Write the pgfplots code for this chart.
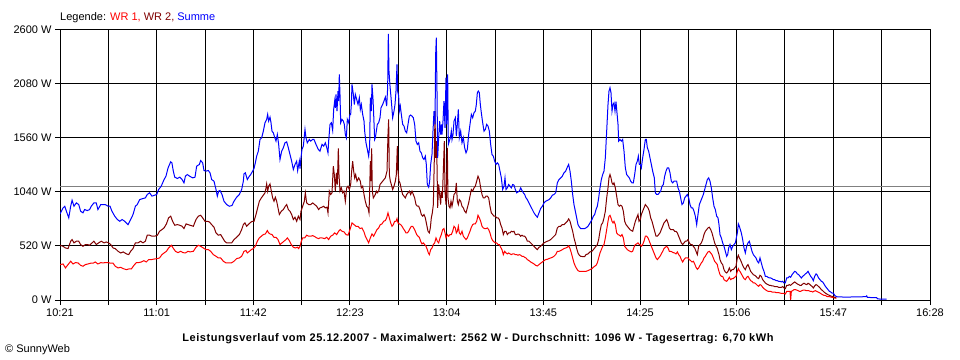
\documentclass[border=0pt]{standalone}
\usepackage{fontspec}
\setmainfont{Liberation Sans}
\usepackage{pgfplots}
\pgfplotsset{compat=1.18}
\definecolor{wra}{RGB}{255,0,0}
\definecolor{wrb}{RGB}{128,0,0}
\definecolor{summe}{RGB}{0,0,255}
\definecolor{avg}{RGB}{128,128,128}
\newcommand{\fs}{\fontsize{11bp}{13bp}\selectfont}
\begin{document}
\begin{tikzpicture}
\path[use as bounding box] (0,0) rectangle (960bp,360bp);
\begin{axis}[
  at={(60bp,60bp)}, anchor=south west,
  scale only axis, width=870bp, height=270bp,
  xmin=0, xmax=367, ymin=0, ymax=2600,
  axis line style={black, line width=1bp},
  xtick={0,20.39,40.78,61.17,81.56,101.94,122.33,142.72,163.11,183.5,203.89,224.28,244.67,265.06,285.44,305.83,326.22,346.61,367},
  xticklabels={10:21,,11:01,,11:42,,12:23,,13:04,,13:45,,14:25,,15:06,,15:47,,16:28},
  ytick={0,520,1040,1560,2080,2600},
  yticklabels={0 W,520 W,1040 W,1560 W,2080 W,2600 W},
  xtick pos=left, ytick pos=left,
  tick align=outside,
  major tick length=5bp,
  tick style={black, line width=1bp},
  grid=major, grid style={black, line width=1bp},
  tick label style={font=\fs},
  every axis plot/.append style={line width=1bp, no marks},
]
\addplot[avg] coordinates {(0,1096) (367,1096)};
% WR 1
\addplot[wra] coordinates {
(0,341) (1.3,347) (2.3,309) (3.4,341) (4.5,373) (5.5,347) (6.5,360) (7.6,357) (8.7,334) (9.7,325) (10.7,341) (11.8,347) (12.9,354) (13.9,354) (14.9,366) (16.0,347) (17.2,360) (18.1,357) (19.1,360) (20.3,360) (21.4,354) (22.4,354) (23.3,325) (24.5,309) (25.6,315) (26.7,302) (28.0,292) (29.0,299) (30.1,299) (31.2,334) (32.2,360) (33.2,360) (34.3,366) (35.4,379) (36.4,366) (37.4,389) (38.5,389) (39.9,395) (41.1,399) (42.0,405) (43.0,437) (43.9,453) (44.9,469) (45.8,501) (47.0,527) (47.7,501) (48.7,469) (49.8,456) (50.9,469) (51.9,456) (52.9,453) (54.0,469)
(54.84,463) (56.25,469) (57.37,508) (58.35,527) (59.34,517) (60.46,501) (61.59,485) (62.57,485) (63.56,469) (64.68,437) (65.81,421) (66.79,405) (67.78,405) (68.90,373) (70.02,357) (71.15,357) (72.27,357) (73.40,373) (74.52,399) (75.65,405) (76.63,421) (77.62,469) (78.46,476) (79.02,453) (79.87,469) (80.71,485) (81.55,495) (82.40,517) (83.24,566) (84.09,598) (84.93,614) (85.77,630) (86.62,636) (87.46,669) (88.02,646) (88.59,636) (89.43,630) (90.27,604) (91.12,604) (91.96,582) (92.80,534) (93.65,550) (94.49,566) (95.33,582) (95.90,598) (96.74,572) (97.58,534) (98.43,508) (99.27,501) (100.11,508) (100.68,495) (101.24,517) (101.80,566) (102.37,598) (103.21,598) (104.05,624) (104.90,614) (105.74,614) (106.58,620) (107.43,611) (108.27,598) (109.11,591) (109.67,598)
(110.52,598) (111.65,591) (112.49,604) (113.33,582) (114.18,614) (115.02,624) (115.87,646) (116.71,630) (117.55,662) (118.26,678) (118.96,662) (119.80,656) (120.65,630) (121.49,624) (122.33,678) (123.18,742) (124.02,726) (124.86,710) (125.71,710) (126.55,688) (127.39,694) (128.24,656) (128.80,614) (129.50,582) (130.21,550) (130.91,598) (131.61,636) (132.32,614) (133.02,646) (133.72,678) (134.42,694) (135.13,726) (135.83,733) (136.53,758) (137.24,765) (137.80,791) (138.36,839) (138.92,791) (139.49,742) (140.05,710) (140.61,726) (141.17,758) (141.74,758) (142.16,784) (142.58,742) (143.14,733) (143.71,726) (144.27,710) (144.83,688) (145.39,669) (145.96,646) (146.52,646) (147.08,662) (147.64,688) (148.21,710) (148.77,710) (149.33,688) (149.89,662) (150.46,630) (151.02,614) (151.58,604) (152.14,566) (152.70,540) (153.27,550) (153.83,534) (154.39,517) (154.95,485) (155.38,453) (155.80,437) (156.36,485) (156.92,501) (157.49,534) (158.05,550) (158.61,598) (159.17,566) (159.73,550) (160.30,598) (160.86,630) (161.42,678) (161.98,688) (162.41,646) (162.83,598) (163.39,630) (163.95,614) (164.52,630) (165.08,630) (165.64,662)
(166.21,710) (166.77,694) (167.19,646) (167.61,662) (168.03,710) (168.45,646) (169.02,630) (169.58,662) (170.14,614) (170.70,598) (171.27,582) (171.83,598) (172.39,630) (172.95,662) (173.52,701) (174.08,726) (174.64,733) (175.20,733) (175.77,758) (176.33,816) (176.89,791) (177.45,758) (178.02,710) (178.58,694) (179.14,688) (179.70,688) (180.27,694) (180.83,678) (181.39,646) (181.95,598) (182.52,572) (183.08,559) (183.64,550) (184.20,550) (184.77,534) (185.33,534) (185.89,508) (186.45,485) (187.01,437) (187.58,469) (188.14,453) (188.70,444) (189.26,453) (189.83,444) (190.39,437) (190.95,444) (191.51,444) (192.08,437) (192.64,437) (193.20,431) (193.76,437) (194.33,431) (194.89,421) (195.45,421) (196.01,411) (196.58,405) (197.14,389) (197.84,379) (198.54,366) (199.25,357) (199.95,347) (200.65,334) (201.36,328) (202.06,341) (202.76,354) (203.47,366) (204.17,379) (204.87,389) (205.58,392) (206.28,399) (206.98,405) (207.68,411) (208.39,421) (209.09,437) (209.79,469) (210.50,469) (211.20,476) (211.90,485) (212.61,495) (213.31,501) (214.01,508) (214.57,521) (215.14,495) (215.70,453) (216.26,405) (216.82,357) (217.39,325) (217.95,302) (218.51,283) (219.07,276) (219.64,276) (220.48,276) (221.32,276)
(221.89,276) (222.73,283) (223.58,292) (224.42,302) (224.98,315) (225.54,325) (226.11,334) (226.67,357) (227.23,405) (227.79,453) (228.36,485) (228.92,517) (229.48,534) (230.04,598) (230.61,678) (231.17,758) (231.59,807) (232.01,816) (232.43,791) (232.86,758) (233.28,742) (233.70,758) (234.26,726) (234.82,646) (235.39,630) (235.95,624) (236.51,614) (237.07,630) (237.64,598) (238.20,517) (238.76,501) (239.32,485) (239.89,476) (240.45,469) (241.01,463) (241.57,469) (242.14,508) (242.70,534) (243.26,540) (243.82,550) (244.39,534) (244.81,534) (245.23,517) (245.79,534) (246.35,566) (246.92,614) (247.48,614) (248.04,598) (248.60,566) (249.17,534) (249.73,501) (250.29,469) (250.85,437) (251.42,405) (251.98,389) (252.54,405) (253.10,421) (253.67,444) (254.23,469) (254.79,495) (255.35,508) (255.92,517) (256.48,501) (257.04,469) (257.60,469) (258.17,463) (258.73,456) (259.29,453) (259.85,444) (260.42,463) (260.98,437) (261.54,421) (262.10,389) (262.66,366) (263.23,389) (263.79,405) (264.35,405) (264.91,405) (265.48,389) (266.04,379) (266.60,366) (267.16,373) (267.73,347) (268.29,315) (268.85,296) (269.41,309) (269.98,334) (270.54,357) (271.10,373) (271.66,405) (272.23,421) (272.79,444) (273.35,463) (273.91,469) (274.48,453) (275.04,437) (275.60,405) (276.16,373) (276.73,357) (277.29,341)
(277.57,309) (277.99,276) (278.41,244) (278.98,228) (279.54,228) (280.10,196) (280.66,186) (281.23,180) (281.79,196) (282.35,219) (282.91,196) (283.48,206) (284.04,206) (284.60,219) (285.16,228) (285.73,276) (286.15,302) (286.57,283) (286.99,270) (287.41,251) (287.98,228) (288.54,206) (289.10,196) (289.66,219) (290.23,228) (290.79,206) (291.35,186) (291.91,180) (292.48,164) (293.04,164) (293.60,154) (294.16,141) (294.73,132) (295.29,148) (295.85,141) (296.41,122) (296.97,109) (297.54,100) (298.10,90) (298.66,84) (299.22,84) (299.79,84) (300.35,77) (300.91,77) (301.47,77) (302.04,71) (302.60,71) (303.16,71) (303.72,67) (304.29,64) (304.85,64) (305.41,64) (305.97,58) (306.54,84) (307.10,84) (307.66,84) (307.94,84) (308.22,0) (308.51,84) (309.07,90) (309.63,100) (310.19,100) (310.75,96) (311.32,90) (311.88,84) (312.44,84) (313.00,90) (313.57,96) (314.13,96) (314.69,90) (315.25,90) (315.82,90) (316.38,84) (316.94,84) (317.50,77) (318.07,84) (318.63,90) (319.19,84) (319.75,77) (320.60,67) (321.16,58) (321.72,51) (322.28,45) (322.85,45) (323.41,35) (323.97,32) (324.53,32) (325.10,29) (325.66,26) (326.22,26) (326.78,19) (327.49,19)
};
% WR 2
\addplot[wrb] coordinates {
(0,527) (1.3,517) (2.3,501) (3.4,495) (4.5,566) (5.1,582) (5.9,550) (6.9,566) (7.9,566) (8.7,534) (9.7,517) (10.7,534) (11.5,534) (12.5,527) (13.2,543) (14.3,566) (15.3,534) (16.3,550) (17.4,566) (18.6,550) (19.5,559) (20.5,550) (21.4,534) (22.4,501) (23.3,495) (24.5,469) (25.6,453) (26.7,463) (28.0,444) (29.0,437) (29.8,469) (30.8,495) (31.8,550) (32.9,550) (34.0,566) (35.0,550) (36.0,566) (36.8,624) (37.8,624) (38.8,614) (39.9,614) (41.1,624) (42.0,662) (43.0,678) (43.9,694) (44.9,733) (45.8,791) (46.7,807) (47.5,758) (48.4,720) (49.5,726) (50.5,720) (51.5,710) (52.3,688) (53.2,733) (54.0,726)
(54.84,720) (56.25,710) (57.37,775) (58.35,807) (59.34,816) (60.18,791) (61.17,758) (62.15,758) (62.99,752) (63.98,726) (64.96,701) (65.81,646) (66.79,624) (67.78,630) (68.62,598) (69.46,566) (70.31,550) (71.43,550) (72.42,550) (73.40,582) (74.52,604) (75.65,630) (76.63,678) (77.34,726) (78.04,742) (78.74,710) (79.44,726) (80.15,742) (80.99,758) (81.84,758) (82.68,823) (83.38,887) (84.09,951) (84.93,983) (85.77,1009) (86.48,1032) (86.90,1080) (87.18,1118) (87.60,1048) (88.02,1096) (88.59,1118) (89.15,1048) (89.71,983) (90.27,951) (90.84,990) (91.40,951) (91.96,887) (92.52,823) (93.37,855) (94.21,871) (95.05,903) (95.62,919) (96.32,871) (97.02,855) (97.72,823) (98.43,775) (99.13,797) (99.83,758) (100.54,807) (101.24,775) (101.66,855) (102.37,903) (103.07,951) (103.49,1032) (104.05,935) (104.90,919) (105.74,919) (106.58,935) (107.43,919) (108.27,903) (109.11,871) (109.67,887)
(110.52,894) (111.23,903) (111.93,887) (112.63,894) (113.05,839) (113.62,1048) (114.18,1016) (114.74,1032) (115.30,1289) (115.72,1208) (116.15,1048) (116.57,1225) (116.99,1112) (117.41,1460) (117.69,1208) (118.11,1048) (118.68,1080) (119.24,1032) (119.80,1048) (120.36,951) (120.93,1080) (121.49,1096) (122.05,1064) (122.61,1112) (123.04,1241) (123.46,1337) (123.88,1241) (124.30,1176) (124.72,1208) (125.29,1144) (125.99,1176) (126.69,1144) (127.11,1080) (127.68,1096) (128.24,1016) (128.80,951) (129.36,903) (129.93,887) (130.35,839) (130.63,1048) (130.91,1337) (131.19,1144) (131.47,1460) (131.75,1048) (132.18,983) (132.60,1000) (133.02,1016) (133.44,1048) (133.86,1032) (134.42,1048) (134.99,1112) (135.55,1128) (136.11,1144) (136.67,1160) (137.24,1176) (137.94,1241) (138.36,1594) (138.64,1739) (138.92,1208) (139.35,1144) (139.77,1112) (140.33,1064) (140.89,1096) (141.46,1144) (141.88,1208) (142.30,1482) (142.58,1241) (143.00,1144) (143.42,1128) (143.99,1064) (144.55,1016) (145.11,1000) (145.67,983) (146.24,1016) (146.80,1032) (147.36,1048) (147.92,1016) (148.49,1048) (149.05,1016) (149.61,983) (150.17,919) (150.74,903) (151.30,903) (151.86,871) (152.42,823) (152.99,807) (153.55,823) (154.11,791) (154.67,726) (155.24,662) (155.80,646) (156.22,694) (156.64,791) (157.06,839) (157.49,919) (157.91,1369) (158.19,1819) (158.47,1369) (158.75,1530) (159.03,1305) (159.31,887) (159.73,1112) (160.16,1016) (160.58,919) (160.86,1048) (161.28,983) (161.70,1241) (162.12,1530) (162.41,1048) (162.83,919) (163.11,1176) (163.39,1466) (163.67,983) (164.09,903) (164.52,887) (164.94,951) (165.36,903) (165.78,951)
(166.21,1016) (166.77,1032) (167.19,1128) (167.61,951) (168.03,919) (168.45,967) (169.02,951) (169.58,903) (170.14,887) (170.70,855) (171.27,839) (171.83,887) (172.39,935) (172.95,1000) (173.52,1064) (174.08,1048) (174.64,1080) (175.20,1096) (175.77,1144) (176.33,1192) (176.89,1160) (177.45,1080) (178.02,1016) (178.58,983) (179.14,983) (179.70,1000) (180.27,1000) (180.83,983) (181.39,903) (181.95,839) (182.52,823) (183.08,807) (183.64,807) (184.20,791) (184.77,791) (185.33,775) (185.89,726) (186.45,694) (187.01,630) (187.58,662) (188.14,662) (188.70,630) (189.26,646) (189.83,646) (190.39,662) (190.95,656) (191.51,662) (192.08,630) (192.64,630) (193.20,636) (193.76,630) (194.33,614) (194.89,624) (195.45,614) (196.01,614) (196.58,598) (197.14,566) (197.84,566) (198.54,550) (199.25,534) (199.95,517) (200.65,501) (201.36,485) (202.06,508) (202.76,517) (203.47,534) (204.17,550) (204.87,559) (205.58,566) (206.28,572) (206.98,582) (207.68,598) (208.39,614) (209.09,630) (209.79,694) (210.50,710) (211.20,710) (211.90,726) (212.61,726) (213.31,742) (214.01,758) (214.57,781) (215.14,758) (215.70,710) (216.26,662) (216.82,598) (217.39,550) (217.95,495) (218.51,453) (219.07,431) (219.64,421) (220.48,418) (221.32,418)
(221.89,437) (222.73,444) (223.58,463) (224.42,469) (224.98,485) (225.54,501) (226.11,517) (226.67,534) (227.23,582) (227.79,662) (228.36,726) (228.92,742) (229.48,791) (230.04,855) (230.61,983) (231.17,1080) (231.59,1176) (232.01,1208) (232.43,1176) (232.86,1128) (233.28,1112) (233.70,1128) (234.26,1080) (234.82,1000) (235.39,919) (235.95,903) (236.51,913) (237.07,903) (237.64,855) (238.20,758) (238.76,726) (239.32,710) (239.89,694) (240.45,678) (241.01,669) (241.57,662) (242.14,710) (242.70,758) (243.26,791) (243.82,823) (244.24,758) (244.81,775) (245.23,823) (245.79,855) (246.35,887) (246.92,919) (247.48,903) (248.04,887) (248.60,855) (249.17,791) (249.73,758) (250.29,710) (250.85,662) (251.42,614) (251.98,614) (252.54,630) (253.10,646) (253.67,678) (254.23,710) (254.79,742) (255.35,758) (255.92,775) (256.48,742) (257.04,694) (257.60,678) (258.17,678) (258.73,678) (259.29,662) (259.85,662) (260.42,646) (260.98,614) (261.54,582) (262.10,550) (262.66,534) (263.23,550) (263.79,566) (264.35,566) (264.91,582) (265.48,550) (266.04,534) (266.60,534) (267.16,517) (267.73,501) (268.29,469) (268.85,437) (269.41,517) (269.98,534) (270.54,550) (271.10,582) (271.66,630) (272.23,662) (272.79,678) (273.35,694) (273.91,701) (274.48,678) (275.04,646) (275.60,598) (276.16,550) (276.73,517) (277.29,495)
(277.57,469) (277.99,437) (278.41,389) (278.98,357) (279.54,341) (280.10,292) (280.66,270) (281.23,260) (281.79,276) (282.35,309) (282.91,276) (283.48,292) (284.04,292) (284.60,309) (285.16,325) (285.73,405) (286.15,431) (286.57,405) (286.99,389) (287.41,366) (287.98,334) (288.54,309) (289.10,292) (289.66,325) (290.23,341) (290.79,309) (291.35,276) (291.91,260) (292.48,244) (293.04,238) (293.60,228) (294.16,212) (294.73,206) (295.29,238) (295.85,228) (296.41,196) (296.97,180) (297.54,164) (298.10,154) (298.66,148) (299.22,141) (299.79,141) (300.35,135) (300.91,135) (301.47,129) (302.04,129) (302.60,129) (303.16,122) (303.72,122) (304.29,122) (304.85,129) (305.41,116) (305.97,109) (306.54,141) (307.10,141) (307.66,148) (308.22,141) (308.79,154) (309.35,164) (309.91,174) (310.47,164) (311.04,154) (311.60,148) (312.16,141) (312.72,141) (313.29,154) (313.85,161) (314.41,154) (314.97,148) (315.54,161) (316.10,154) (316.66,141) (317.22,132) (317.79,116) (318.35,135) (318.91,148) (319.47,141) (320.03,129) (320.60,116) (321.16,100) (321.72,90) (322.28,77) (322.85,67) (323.41,58) (323.97,51) (324.53,45) (325.10,39) (325.66,35) (326.22,32) (326.78,26) (327.49,19)
};
% Summe
\addplot[summe] coordinates {
(0,829) (1.3,887) (2.0,903) (2.7,855) (3.7,791) (4.5,903) (5.1,961) (5.9,903) (6.9,935) (7.9,919) (8.7,855) (9.7,839) (10.4,871) (11.5,861) (12.5,871) (13.2,903) (14.3,935) (15.3,935) (16.0,871) (17.2,919) (18.1,919) (19.1,919) (20.3,903) (21.1,903) (21.9,855) (23.1,807) (24.2,775) (25.2,758) (26.2,775) (27.3,758) (28.7,726) (29.8,775) (30.8,823) (31.8,903) (32.6,919) (33.6,967) (35.0,977) (36.0,983) (36.8,1016) (37.8,1032) (38.8,1000) (39.9,1009) (40.8,1016) (41.6,1064) (42.7,1096) (43.9,1160) (44.7,1192) (45.6,1273) (46.7,1331) (47.2,1321) (47.8,1241) (48.4,1183) (49.5,1170) (50.5,1183) (51.5,1160) (52.3,1128) (52.9,1192) (53.7,1208) (54.7,1192)
(55.96,1176) (56.95,1183) (57.65,1289) (58.78,1305) (59.34,1343) (60.18,1321) (60.74,1247) (61.59,1241) (62.57,1247) (63.28,1225) (63.98,1160) (64.96,1144) (65.81,1064) (66.37,1000) (66.93,1048) (67.49,1054) (68.34,1016) (69.18,951) (70.31,919) (71.43,903) (72.56,910) (73.40,951) (74.52,990) (75.65,1016) (76.63,1064) (77.34,1144) (77.62,1215) (78.18,1225) (79.02,1160) (79.87,1192) (80.43,1208) (81.27,1241) (81.84,1266) (82.40,1321) (82.96,1385) (83.66,1433) (84.37,1546) (85.07,1562) (85.77,1626) (86.48,1707) (87.18,1739) (87.60,1787) (88.02,1723) (88.59,1761) (89.01,1707) (89.43,1626) (89.99,1610) (90.55,1568) (91.12,1530) (91.68,1594) (92.24,1498) (92.80,1353) (93.51,1433) (94.21,1466) (94.91,1514) (95.62,1523) (96.32,1466) (97.02,1401) (97.72,1337) (98.43,1257) (99.13,1305) (99.83,1337) (100.25,1247) (100.96,1337) (101.24,1266) (101.66,1369) (102.08,1450) (102.65,1482) (103.35,1642) (103.77,1562) (104.33,1514) (105.18,1546) (105.74,1530) (106.58,1546) (107.14,1546) (107.99,1498) (108.97,1450) (109.67,1433)
(110.52,1498) (111.23,1482) (111.93,1514) (112.63,1459) (113.05,1417) (113.33,1530) (113.90,1691) (114.46,1707) (115.02,1633) (115.44,1835) (115.87,1916) (116.15,1851) (116.43,1980) (116.85,1819) (117.27,2012) (117.55,1916) (117.83,2173) (118.11,1980) (118.40,1707) (118.96,1739) (119.52,1723) (119.94,1691) (120.36,1594) (120.79,1562) (121.21,1739) (121.77,1707) (122.33,1787) (122.61,1787) (122.90,1883) (123.18,2076) (123.74,1980) (124.16,1883) (124.58,1980) (125.15,1932) (125.71,1883) (126.27,1948) (126.69,1835) (127.11,1883) (127.68,1787) (128.24,1723) (128.52,1626) (129.08,1514) (129.65,1450) (130.21,1385) (130.63,1482) (130.91,1948) (131.33,1819) (131.61,2076) (132.04,1932) (132.32,1787) (132.74,1546) (133.02,1562) (133.44,1626) (133.86,1691) (134.42,1707) (134.99,1755) (135.41,1851) (136.11,1883) (136.67,1916) (137.24,1954) (137.80,1867) (138.22,2044) (138.50,2562) (138.78,2205) (139.21,2060) (139.77,1916) (140.33,1755) (140.89,1819) (141.31,1883) (141.74,2012) (142.16,2269) (142.44,2012) (142.86,1964) (143.14,1819) (143.56,1867) (143.99,1787) (144.55,1691) (145.11,1675) (145.67,1626) (146.24,1610) (146.80,1691) (147.36,1771) (147.92,1781) (148.49,1771) (149.05,1755) (149.61,1691) (150.17,1530) (150.74,1498) (151.30,1514) (151.86,1433) (152.42,1417) (152.99,1369) (153.55,1353) (154.11,1385) (154.53,1305) (154.95,1112) (155.52,1086) (155.94,1144) (156.36,1305) (156.92,1401) (157.34,1626) (157.77,1819) (158.19,1691) (158.47,2366) (158.75,2526) (159.03,2012) (159.31,1369) (159.73,1562) (160.16,1723) (160.58,1594) (160.86,1691) (161.14,1594) (161.56,1723) (161.98,1916) (162.41,1658) (162.83,2141) (163.11,1691) (163.53,2173) (163.81,1498) (164.23,1530) (164.66,1562) (165.08,1626) (165.36,1546) (165.78,1594)
(166.21,1723) (166.77,1755) (167.19,1578) (167.61,1691) (168.03,1835) (168.45,1562) (169.02,1626) (169.58,1514) (170.14,1562) (170.70,1466) (171.27,1417) (171.83,1450) (172.39,1594) (172.95,1691) (173.52,1787) (174.08,1755) (174.64,1803) (175.20,1819) (175.63,1883) (176.05,1996) (176.47,2012) (176.89,1996) (177.31,1883) (177.73,1803) (178.30,1707) (178.86,1626) (179.42,1642) (179.98,1691) (180.55,1675) (181.11,1626) (181.67,1498) (182.23,1401) (182.80,1385) (183.36,1337) (183.92,1305) (184.48,1321) (185.05,1305) (185.61,1241) (186.17,1176) (186.73,1064) (187.30,1096) (187.72,1176) (188.14,1064) (188.70,1080) (189.26,1112) (189.83,1096) (190.39,1080) (190.95,1112) (191.51,1106) (192.08,1064) (192.64,1032) (193.20,1041) (193.76,1048) (194.33,1080) (194.89,1054) (195.45,1032) (196.01,1016) (196.58,983) (197.14,967) (197.84,935) (198.54,903) (199.25,871) (199.95,839) (200.65,816) (201.36,797) (202.06,839) (202.76,881) (203.47,903) (204.17,935) (204.87,951) (205.58,958) (206.28,967) (206.98,983) (207.68,1009) (208.39,1016) (209.09,1032) (209.79,1128) (210.50,1160) (211.20,1176) (211.90,1192) (212.61,1225) (213.31,1241) (214.01,1279) (214.57,1305) (215.14,1241) (215.70,1144) (216.26,1016) (216.82,919) (217.39,855) (217.95,791) (218.51,726) (219.07,704) (219.64,688) (220.48,688) (221.32,688)
(221.89,694) (222.73,710) (223.58,742) (224.42,775) (224.98,807) (225.54,823) (226.11,871) (226.67,903) (227.23,983) (227.79,1080) (228.36,1160) (228.92,1208) (229.48,1241) (230.04,1369) (230.61,1626) (231.17,1883) (231.59,2012) (232.01,2044) (232.43,1996) (232.86,1819) (233.28,1883) (233.70,1899) (234.12,1819) (234.54,1909) (234.96,1803) (235.39,1691) (235.67,1530) (236.23,1546) (236.79,1530) (237.35,1546) (237.92,1433) (238.48,1273) (239.04,1208) (239.60,1192) (240.17,1176) (240.73,1144) (241.29,1128) (241.85,1128) (242.42,1208) (242.98,1305) (243.54,1337) (243.96,1385) (244.39,1305) (244.81,1305) (245.23,1273) (245.79,1369) (246.35,1450) (246.92,1546) (247.34,1546) (247.76,1466) (248.32,1433) (248.88,1369) (249.45,1305) (250.01,1241) (250.71,1176) (251.13,1032) (251.70,1016) (252.26,1016) (252.82,1032) (253.38,1048) (253.95,1096) (254.51,1112) (255.07,1192) (255.63,1241) (256.20,1273) (256.76,1273) (257.32,1225) (257.88,1144) (258.45,1128) (259.01,1144) (259.57,1144) (260.13,1144) (260.70,1080) (261.26,1048) (261.82,983) (262.38,919) (262.95,935) (263.51,983) (264.07,1000) (264.63,1016) (265.20,983) (265.76,919) (266.32,887) (266.88,887) (267.45,855) (268.01,807) (268.57,726) (269.13,823) (269.70,919) (270.26,951) (270.82,983) (271.38,1016) (271.95,1064) (272.51,1112) (273.07,1160) (273.63,1176) (274.20,1144) (274.76,1080) (275.32,983) (275.88,903) (276.44,871) (277.01,807)
(277.57,791) (277.99,726) (278.41,630) (278.98,598) (279.54,550) (280.10,517) (280.66,469) (281.23,421) (281.65,437) (282.07,501) (282.63,534) (283.20,485) (283.76,517) (284.32,534) (284.88,550) (285.30,598) (285.73,646) (286.15,733) (286.57,710) (286.99,678) (287.41,646) (287.98,582) (288.54,501) (289.10,453) (289.66,517) (290.23,550) (290.79,566) (291.35,517) (291.91,469) (292.48,437) (293.04,421) (293.60,405) (294.16,373) (294.73,357) (295.29,405) (295.85,357) (296.41,309) (296.97,276) (297.54,228) (298.10,228) (298.66,219) (299.22,212) (299.79,212) (300.35,206) (300.91,196) (301.47,196) (302.04,186) (302.60,186) (303.16,180) (303.72,180) (304.29,174) (304.85,180) (305.41,164) (305.97,164) (306.54,212) (307.10,212) (307.66,228) (308.22,219) (308.79,244) (309.35,260) (309.91,276) (310.47,270) (311.04,251) (311.60,244) (312.16,228) (312.72,212) (313.29,228) (313.85,238) (314.41,251) (314.97,260) (315.54,276) (316.10,251) (316.66,228) (317.22,212) (317.79,186) (318.35,228) (318.91,251) (319.47,238) (320.03,212) (320.60,196) (321.16,180) (321.72,174) (322.28,154) (322.85,132) (323.41,116) (323.97,100) (324.53,84) (325.10,77) (325.66,67) (326.22,67) (326.78,45) (327.35,35) (327.91,30) (331.7,28) (336.0,30) (340.0,32) (340.3,40) (340.6,25) (344.5,22) (345.0,10) (348.7,8)
};
\end{axis}
\node[anchor=base west, inner sep=0, font=\fs] at (60bp,339.5bp) {Legende: \textcolor{wra}{WR 1,} \textcolor{wrb}{WR 2,} \textcolor{summe}{Summe}};
\node[anchor=base, inner sep=0, font=\fs\bfseries\addfontfeature{LetterSpace=5}] at (478bp,19bp) {Leistungsverlauf vom 25.12.2007 - Maximalwert: 2562 W - Durchschnitt: 1096 W - Tagesertrag: 6,70 kWh};
\node[anchor=base west, inner sep=0, font=\fs] at (5bp,7.3bp) {\textcopyright\ SunnyWeb};
\end{tikzpicture}
\end{document}
